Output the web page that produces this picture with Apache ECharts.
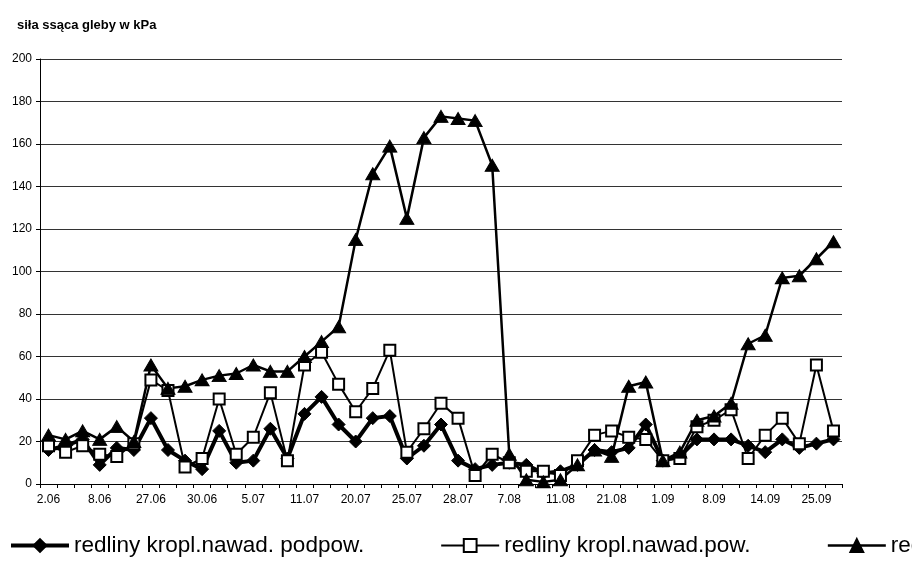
<!DOCTYPE html>
<html><head><meta charset="utf-8">
<script src="https://cdn.jsdelivr.net/npm/echarts@6/dist/echarts.min.js"></script>
<style>html,body{margin:0;padding:0;background:#fff}#c{width:912px;height:566px}</style>
</head><body><div id="c"></div>
<script>
const titleText = 'siła ssąca gleby w kPa';
const tickLabels = ['2.06','8.06','27.06','30.06','5.07','11.07','20.07','25.07','28.07','7.08','11.08','21.08','1.09','8.09','14.09','25.09'];
const seriesNames = ['redliny kropl.nawad. podpow.','redliny kropl.nawad.pow.','redliny bez nawadniania'];
const podpow = [16,18,21,9,17,16,31,16,11,7,25,10,11,26,12,33,41,28,20,31,32,12,18,28,11,7,9,10,9,5,6,9,16,15,17,28,11,13,21,21,21,18,15,21,17,19,21];
const pow    = [18,15,18,14,13,19,49,44,8,12,40,14,22,43,11,56,62,47,34,45,63,15,26,38,31,4,14,10,6,6,4,11,23,25,22,21,11,12,27,30,35,12,23,31,19,56,25];
const third  = [23,21,25,21,27,20,56,45,46,49,51,52,56,53,53,60,67,74,115,146,159,125,163,173,172,171,150,14,2,1,2,9,16,13,46,48,11,15,30,32,38,66,70,97,98,106,114];

const categories = podpow.map((_, i) => (i % 3 === 0 ? tickLabels[i / 3] : ''));
const FONT = '"Liberation Sans", Arial, sans-serif';

const chart = echarts.init(document.getElementById('c'), null, {renderer: 'canvas'});
chart.setOption({
  animation: false,
  backgroundColor: '#fff',
  title: {
    text: titleText, left: 12, top: 14,
    textStyle: {fontFamily: FONT, fontSize: 13, fontWeight: 'bold', color: '#000'}
  },
  legend: {
    left: 4, top: 529, width: 2000,
    itemWidth: 58, itemHeight: 16, itemGap: 76,
    textStyle: {fontFamily: FONT, fontSize: 22.5, color: '#000'},
    data: [
      {name: seriesNames[0], lineStyle: {width: 4}},
      {name: seriesNames[1], lineStyle: {width: 2}},
      {name: seriesNames[2], lineStyle: {width: 2.5}}
    ]
  },
  grid: {left: 40, right: 70, top: 59, bottom: 82, containLabel: false},
  xAxis: {
    type: 'category', data: categories, boundaryGap: true,
    axisLine: {lineStyle: {color: '#000', width: 1}},
    axisTick: {show: true, interval: 0, length: 4, lineStyle: {color: '#000'}},
    axisLabel: {interval: 0, margin: 10, fontFamily: FONT, fontSize: 12, color: '#000'},
    splitLine: {show: false}
  },
  yAxis: {
    type: 'value', min: 0, max: 200, interval: 20,
    axisLine: {show: true, lineStyle: {color: '#000', width: 1}},
    axisTick: {show: true, length: 4, lineStyle: {color: '#000'}},
    axisLabel: {margin: 8, fontFamily: FONT, fontSize: 12, color: '#000'},
    splitLine: {show: true, lineStyle: {color: '#333', width: 1}}
  },
  series: [
    {
      name: seriesNames[0], type: 'line', data: podpow,
      symbol: 'diamond', symbolSize: 13,
      lineStyle: {color: '#000', width: 4},
      itemStyle: {color: '#000', borderColor: '#000', borderWidth: 1}
    },
    {
      name: seriesNames[1], type: 'line', data: pow,
      symbol: 'rect', symbolSize: 11,
      lineStyle: {color: '#000', width: 2},
      itemStyle: {color: '#fff', borderColor: '#000', borderWidth: 2}
    },
    {
      name: seriesNames[2], type: 'line', data: third,
      symbol: 'triangle', symbolSize: [14, 12],
      lineStyle: {color: '#000', width: 2.5},
      itemStyle: {color: '#000', borderColor: '#000', borderWidth: 1}
    }
  ]
});
</script>
</body></html>
